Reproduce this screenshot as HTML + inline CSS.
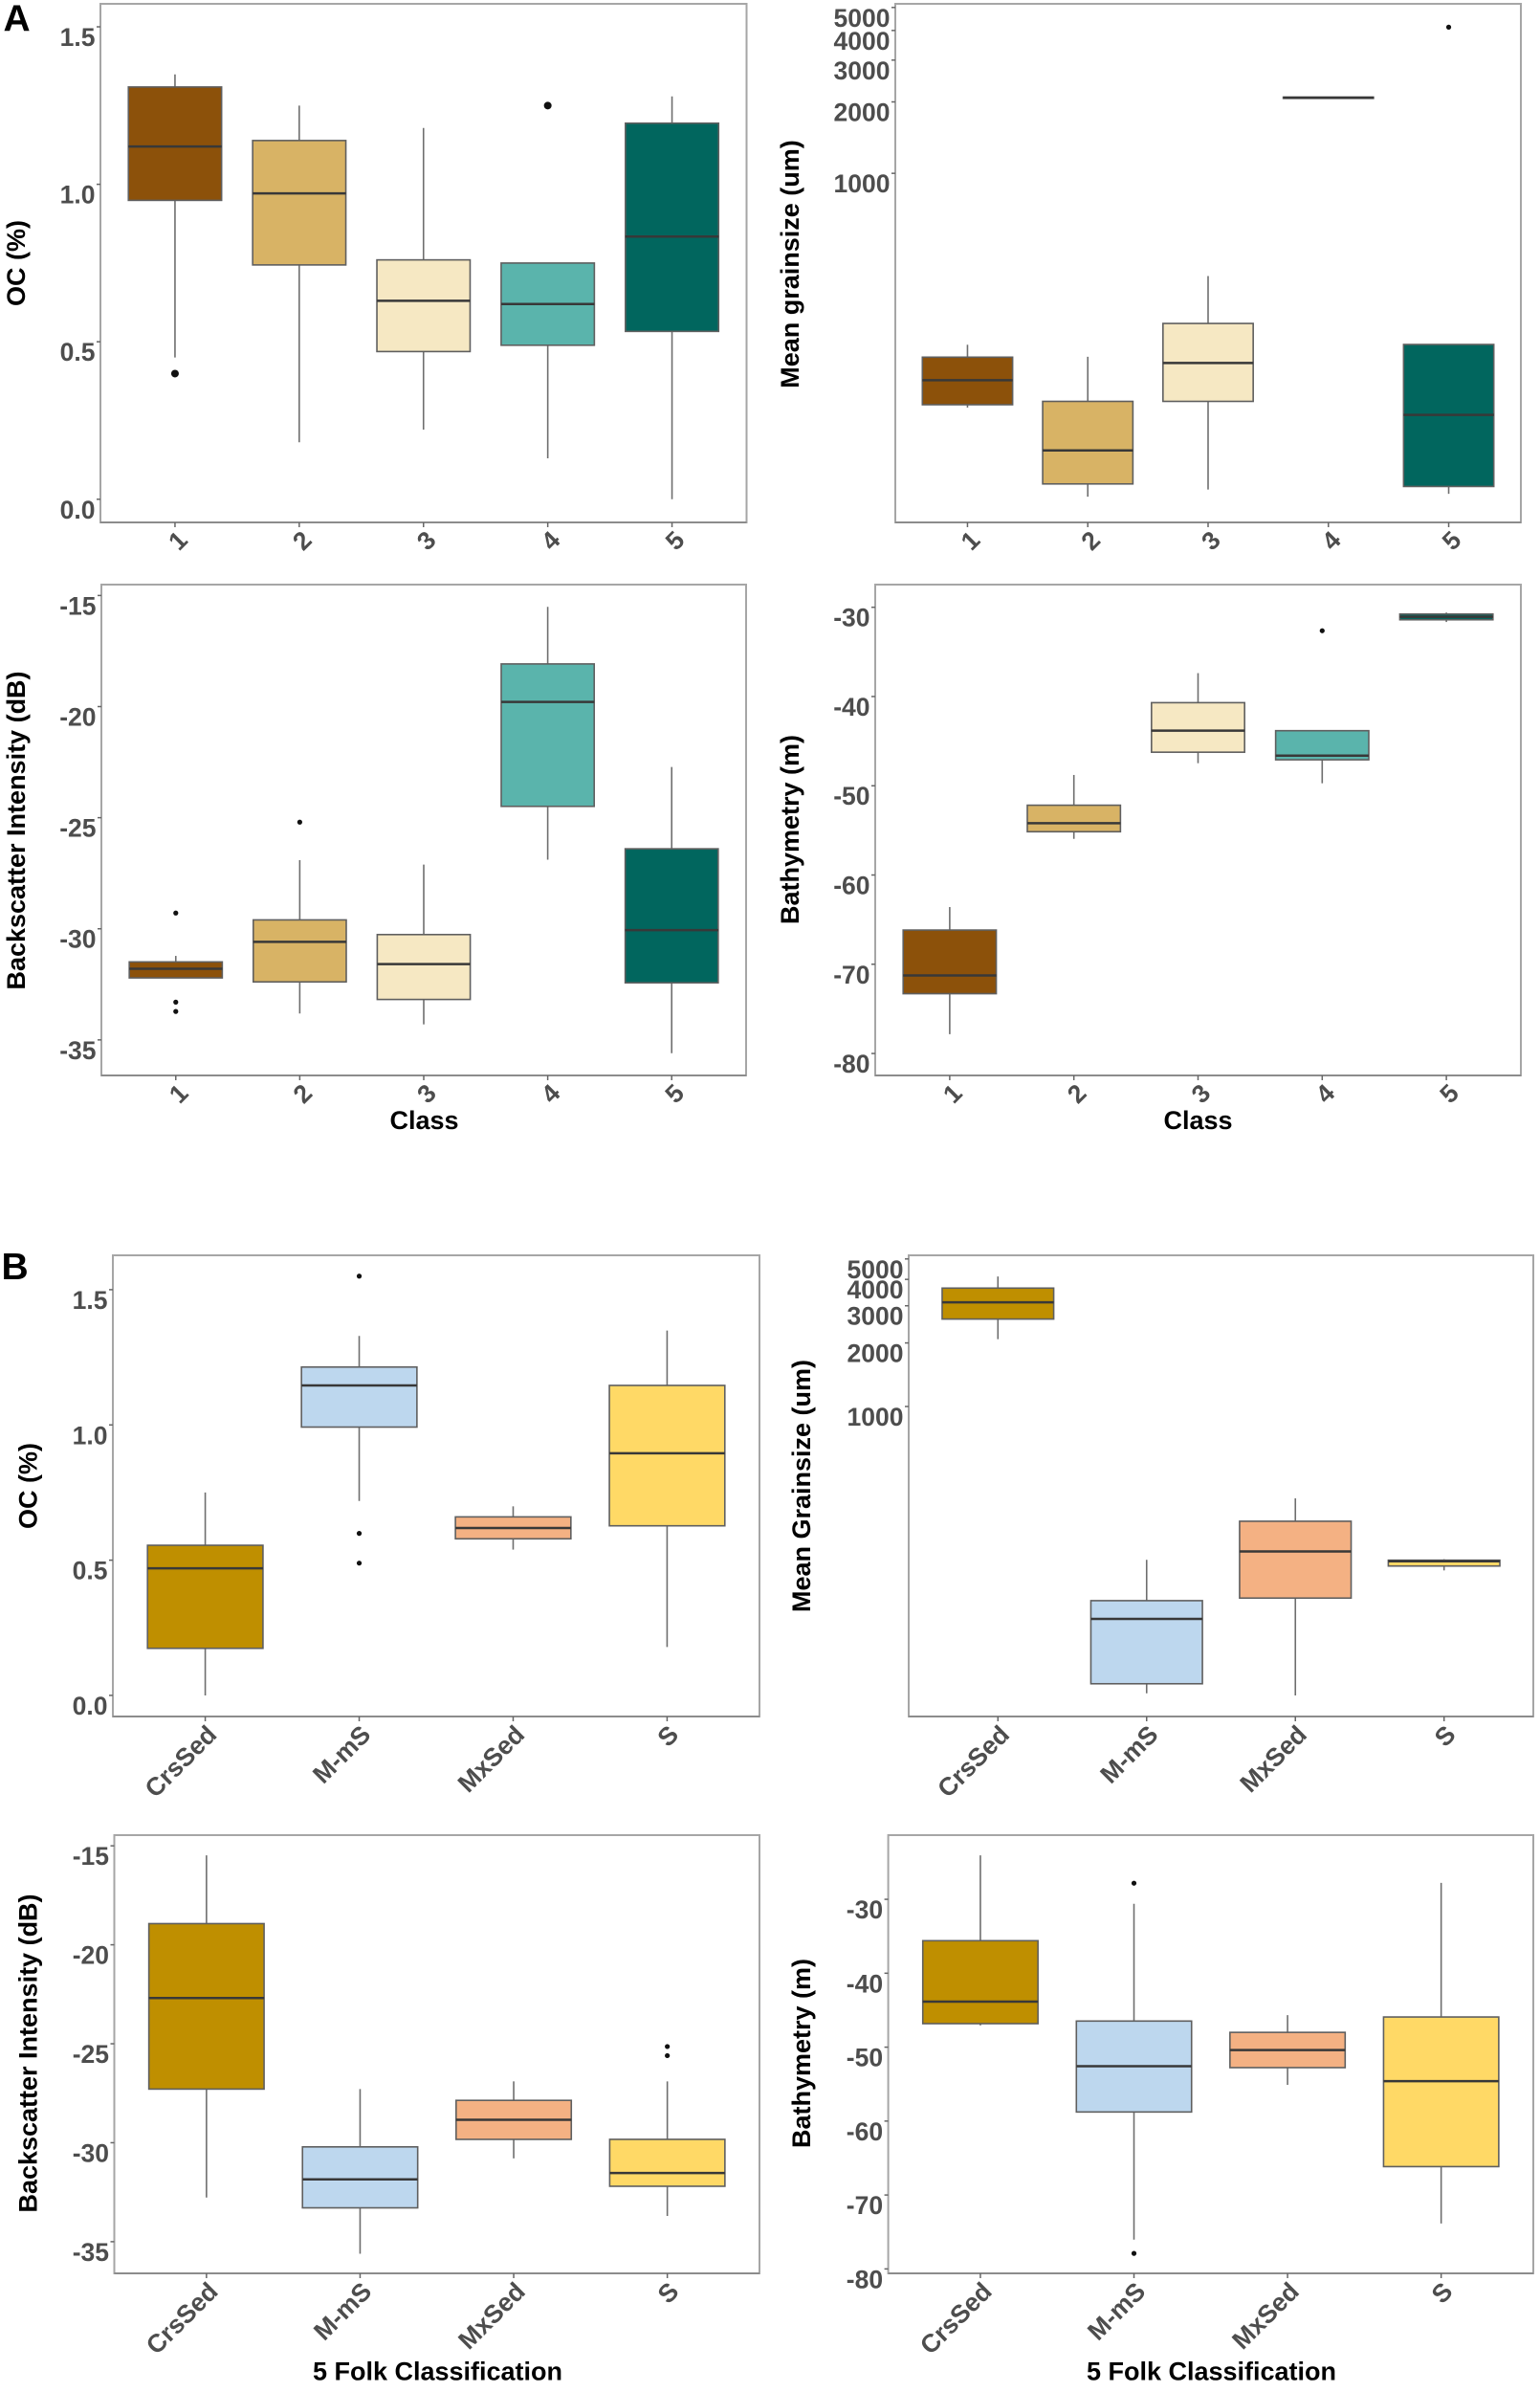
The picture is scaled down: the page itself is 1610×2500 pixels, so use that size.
<!DOCTYPE html>
<html lang="en">
<head>
<meta charset="utf-8">
<title>Boxplots by class and Folk classification</title>
<style>
html,body{margin:0;padding:0;background:#fff;}
svg{display:block;font-family:"Liberation Sans",sans-serif;}
.axis-title{font-weight:700;font-size:27px;fill:#000;text-anchor:middle;}
.tick-label{font-weight:700;font-size:26.5px;fill:#4d4d4d;}
.panel-letter{font-weight:700;font-size:39px;fill:#000;}
</style>
</head>
<body>
<svg id="figure" width="1610" height="2500" viewBox="0 0 1610 2500" xmlns="http://www.w3.org/2000/svg">
  <rect width="1610" height="2500" fill="#fff"/>
  <text class="panel-letter" x="3.5" y="32.5">A</text>
  <text class="panel-letter" x="1.5" y="1337">B</text>

  <g id="class-oc">
    <text class="axis-title" transform="translate(26,275) rotate(-90)">OC (%)</text>
  </g>
  <g id="class-grain">
    <text class="axis-title" transform="translate(835,276) rotate(-90)">Mean grainsize (um)</text>
  </g>
  <g id="class-back">
    <text class="axis-title" transform="translate(26,868) rotate(-90)">Backscatter Intensity (dB)</text>
    <text class="axis-title" x="443.5" y="1180">Class</text>
  </g>
  <g id="class-bath">
    <text class="axis-title" transform="translate(835,867) rotate(-90)">Bathymetry (m)</text>
    <text class="axis-title" x="1252.5" y="1180">Class</text>
  </g>
  <g id="folk-oc">
    <text class="axis-title" transform="translate(38.5,1553) rotate(-90)">OC (%)</text>
  </g>
  <g id="folk-grain">
    <text class="axis-title" transform="translate(847,1553) rotate(-90)">Mean Grainsize (um)</text>
  </g>
  <g id="folk-back">
    <text class="axis-title" transform="translate(38.5,2146) rotate(-90)">Backscatter Intensity (dB)</text>
    <text class="axis-title" x="457.5" y="2487.5">5 Folk Classification</text>
  </g>
  <g id="folk-bath">
    <text class="axis-title" transform="translate(847,2146) rotate(-90)">Bathymetry (m)</text>
    <text class="axis-title" x="1266.5" y="2487.5">5 Folk Classification</text>
  </g>
</svg>

<script>
// Categories
const classLabels = ["1", "2", "3", "4", "5"];
const folkLabels = ["CrsSed", "M-mS", "MxSed", "S"];

// Tick labels
const ocTicks = [0, 0.5, 1, 1.5];
const grainTicks = [1000, 2000, 3000, 4000, 5000];
const backTicks = [-35, -30, -25, -20, -15];
const classBathTicks = [-80, -70, -60, -50, -40, -30];
const folkBathTicks = [-80, -70, -60, -50, -40, -30];

// A: OC (%) by class
const classOcHigh = [1.349, 1.250, 1.179, 0.750, 1.279];
const classOcQ3 = [1.309, 1.139, 0.760, 0.750, 1.194];
const classOcMedian = [1.120, 0.971, 0.630, 0.620, 0.834];
const classOcQ1 = [0.949, 0.744, 0.469, 0.489, 0.533];
const classOcLow = [0.450, 0.181, 0.221, 0.130, 0.0];
const classOcOutliers = [[0.399], [], [], [1.250], []];

// A: mean grainsize by class
const classGrainHigh = [189.5, 168.6, 369, 2095, 190];
const classGrainQ3 = [168, 109.4, 233, 2095, 190];
const classGrainMedian = [134.4, 68, 158.8, 2083, 96];
const classGrainQ1 = [105.9, 49.1, 109.4, 2070, 47.9];
const classGrainLow = [103, 43.4, 46.5, 2070, 44.6];
const classGrainOutliers = [[], [], [], [], [4130]];

// A: backscatter by class
const classBackHigh = [-31.22, -26.91, -27.11, -15.51, -22.72];
const classBackQ3 = [-31.49, -29.6, -30.26, -18.08, -26.4];
const classBackMedian = [-31.8, -30.59, -31.59, -19.79, -30.06];
const classBackQ1 = [-32.21, -32.39, -33.18, -24.49, -32.43];
const classBackLow = [-32.21, -33.81, -34.3, -26.89, -35.6];
const classBackOutliers = [[-29.29, -33.3, -33.72], [-25.2], [], [], []];

// A: bathymetry by class
const classBathHigh = [-63.59, -48.79, -37.38, -43.83, -30.59];
const classBathQ3 = [-66.17, -52.18, -40.69, -43.83, -30.76];
const classBathMedian = [-71.26, -54.2, -43.83, -46.62, -31.06];
const classBathQ1 = [-73.3, -55.15, -46.24, -47.09, -31.4];
const classBathLow = [-77.84, -55.95, -47.47, -49.72, -31.65];
const classBathOutliers = [[], [], [], [-32.63], []];

// B: OC (%) by Folk class
const folkOcHigh = [0.75, 1.329, 0.699, 1.349];
const folkOcQ3 = [0.555, 1.214, 0.66, 1.146];
const folkOcMedian = [0.47, 1.146, 0.619, 0.895];
const folkOcQ1 = [0.174, 0.992, 0.579, 0.627];
const folkOcLow = [0.0, 0.719, 0.539, 0.179];
const folkOcOutliers = [[], [1.55, 0.599, 0.489], [], []];

// B: mean grainsize by Folk class
const folkGrainHigh = [4130, 187.7, 367.4, 189];
const folkGrainQ3 = [3637, 120.3, 286, 187];
const folkGrainMedian = [3115, 98.6, 205.8, 184.8];
const folkGrainQ1 = [2595, 48.6, 123.7, 175.5];
const folkGrainLow = [2085, 43.8, 42.8, 167.3];
const folkGrainOutliers = [[], [], [], []];

// B: backscatter by Folk class
const folkBackHigh = [-15.48, -27.29, -26.9, -26.9];
const folkBackQ3 = [-18.93, -30.21, -27.86, -29.83];
const folkBackMedian = [-22.69, -31.85, -28.84, -31.53];
const folkBackQ1 = [-27.29, -33.29, -29.83, -32.2];
const folkBackLow = [-32.77, -35.61, -30.79, -33.7];
const folkBackOutliers = [[], [], [], [-25.14, -25.6]];

// B: bathymetry by Folk class
const folkBathHigh = [-24.05, -30.6, -45.67, -27.77];
const folkBathQ3 = [-35.6, -46.47, -48, -45.92];
const folkBathMedian = [-43.84, -52.57, -50.39, -54.6];
const folkBathQ1 = [-46.82, -58.77, -52.77, -66.16];
const folkBathLow = [-47.06, -76.03, -55.1, -73.85];
const folkBathOutliers = [[], [-27.82, -77.9], [], []];

// Fill colours
const classColors = ["#8c510a", "#d8b365", "#f6e8c3", "#5ab4ac", "#01665e"];
const folkColors = ["#bf8f00", "#bdd7ee", "#f4b183", "#ffd966"];

const SVG_NS = "http://www.w3.org/2000/svg";

function make(parent, tag, attrs) {
  const el = document.createElementNS(SVG_NS, tag);
  for (const k in attrs) el.setAttribute(k, attrs[k]);
  parent.appendChild(el);
  return el;
}

function drawChart(cfg) {
  const root = document.getElementById(cfg.id);
  const n = cfg.labels.length;
  const step = (cfg.right - cfg.left) / (n + 0.2);
  const xPos = i => cfg.left + step * (i + 0.6);
  const t = v => cfg.log ? Math.log(v) : v;
  const yPos = v => cfg.bottom - (t(v) - t(cfg.domain[0])) / (t(cfg.domain[1]) - t(cfg.domain[0])) * (cfg.bottom - cfg.top);
  const halfBox = step * 0.375;

  const panel = make(root, "rect", {x: cfg.left, y: cfg.top, width: cfg.right - cfg.left, height: cfg.bottom - cfg.top, fill: "#fff", stroke: "#a6a6a6", "stroke-width": 2});
  
  
  const baseLine = make(root, "line", {x1: cfg.left, x2: cfg.right, y1: cfg.bottom, y2: cfg.bottom, stroke: "#8c8c8c", "stroke-width": 2});
  
  

  cfg.ticks.forEach(v => {
    const y = yPos(v);
    const tick = make(root, "line", {x1: cfg.left - 4, x2: cfg.left, y1: y, y2: y, stroke: "#666", "stroke-width": 1.5});
    
    
    const label = make(root, "text", {x: cfg.left - 5.5, y: y + 20, "text-anchor": "end", class: "tick-label"});
    
    
    label.textContent = cfg.tickText ? cfg.tickText(v) : String(v);
  });

  cfg.labels.forEach((name, i) => {
    const x = xPos(i);
    const tick = make(root, "line", {x1: x, x2: x, y1: cfg.bottom, y2: cfg.bottom + 5, stroke: "#666", "stroke-width": 1.5});
    
    
    const label = make(root, "text", cfg.endAnchor
      ? {transform: "translate(" + (x + 13.5) + "," + (cfg.bottom + 20.5) + ") rotate(-45)", "text-anchor": "end", class: "tick-label"}
      : {transform: "translate(" + (x + 3) + "," + (cfg.bottom + 19) + ") rotate(-45)", "text-anchor": "middle", "dominant-baseline": "central", class: "tick-label"});
    
    
    label.textContent = name;

    const group = make(root, "g", {});
    
    

    const whisker = make(group, "line", {x1: x, x2: x, y1: yPos(cfg.high[i]), y2: yPos(cfg.low[i]), stroke: "#6e6e6e", "stroke-width": 1.6});
    
    

    const yQ3 = yPos(cfg.q3[i]);
    const yQ1 = yPos(cfg.q1[i]);
    const box = make(group, "rect", {x: x - halfBox, y: yQ3, width: halfBox * 2, height: yQ1 - yQ3, fill: cfg.colors[i], stroke: "#5f5f5f", "stroke-width": 1.6});
    
    

    const yMed = yPos(cfg.median[i]);
    const med = make(group, "line", {x1: x - halfBox, x2: x + halfBox, y1: yMed, y2: yMed, stroke: "#383838", "stroke-width": 2.5});
    
    

    cfg.outliers[i].forEach(v => {
      const dot = make(group, "circle", {cx: x, cy: yPos(v), r: cfg.dot, fill: "#111"});
      
      
    });
  });
}

drawChart({id: "class-oc", left: 105, right: 780.5, top: 4, bottom: 546, domain: [-0.0735, 1.573], log: false, ticks: ocTicks, tickText: v => v.toFixed(1), labels: classLabels, colors: classColors, dot: 4, high: classOcHigh, q3: classOcQ3, median: classOcMedian, q1: classOcQ1, low: classOcLow, outliers: classOcOutliers});
drawChart({id: "class-grain", left: 936, right: 1590, top: 4, bottom: 546, domain: [33.8, 5180], log: true, ticks: grainTicks, labels: classLabels, colors: classColors, dot: 2.6, high: classGrainHigh, q3: classGrainQ3, median: classGrainMedian, q1: classGrainQ1, low: classGrainLow, outliers: classGrainOutliers});
drawChart({id: "class-back", left: 106, right: 780, top: 611, bottom: 1124, domain: [-36.6, -14.51], log: false, ticks: backTicks, labels: classLabels, colors: classColors, dot: 2.6, high: classBackHigh, q3: classBackQ3, median: classBackMedian, q1: classBackQ1, low: classBackLow, outliers: classBackOutliers});
drawChart({id: "class-bath", left: 915, right: 1590, top: 611, bottom: 1124, domain: [-82.46, -27.46], log: false, ticks: classBathTicks, labels: classLabels, colors: classColors, dot: 2.6, high: classBathHigh, q3: classBathQ3, median: classBathMedian, q1: classBathQ1, low: classBathLow, outliers: classBathOutliers});
drawChart({id: "folk-oc", left: 118, right: 794, top: 1312, bottom: 1794, domain: [-0.078, 1.627], log: false, ticks: ocTicks, tickText: v => v.toFixed(1), labels: folkLabels, colors: folkColors, dot: 2.6, endAnchor: true, high: folkOcHigh, q3: folkOcQ3, median: folkOcMedian, q1: folkOcQ1, low: folkOcLow, outliers: folkOcOutliers});
drawChart({id: "folk-grain", left: 950, right: 1603, top: 1312, bottom: 1794, domain: [34, 5201], log: true, ticks: grainTicks, labels: folkLabels, colors: folkColors, dot: 2.6, endAnchor: true, high: folkGrainHigh, q3: folkGrainQ3, median: folkGrainMedian, q1: folkGrainQ1, low: folkGrainLow, outliers: folkGrainOutliers});
drawChart({id: "folk-back", left: 119.5, right: 794, top: 1918, bottom: 2376, domain: [-36.6, -14.46], log: false, ticks: backTicks, labels: folkLabels, colors: folkColors, dot: 2.6, endAnchor: true, high: folkBackHigh, q3: folkBackQ3, median: folkBackMedian, q1: folkBackQ1, low: folkBackLow, outliers: folkBackOutliers});
drawChart({id: "folk-bath", left: 928.6, right: 1603, top: 1918, bottom: 2376, domain: [-80.6, -21.32], log: false, ticks: folkBathTicks, labels: folkLabels, colors: folkColors, dot: 2.6, endAnchor: true, high: folkBathHigh, q3: folkBathQ3, median: folkBathMedian, q1: folkBathQ1, low: folkBathLow, outliers: folkBathOutliers});
</script>
</body>
</html>
